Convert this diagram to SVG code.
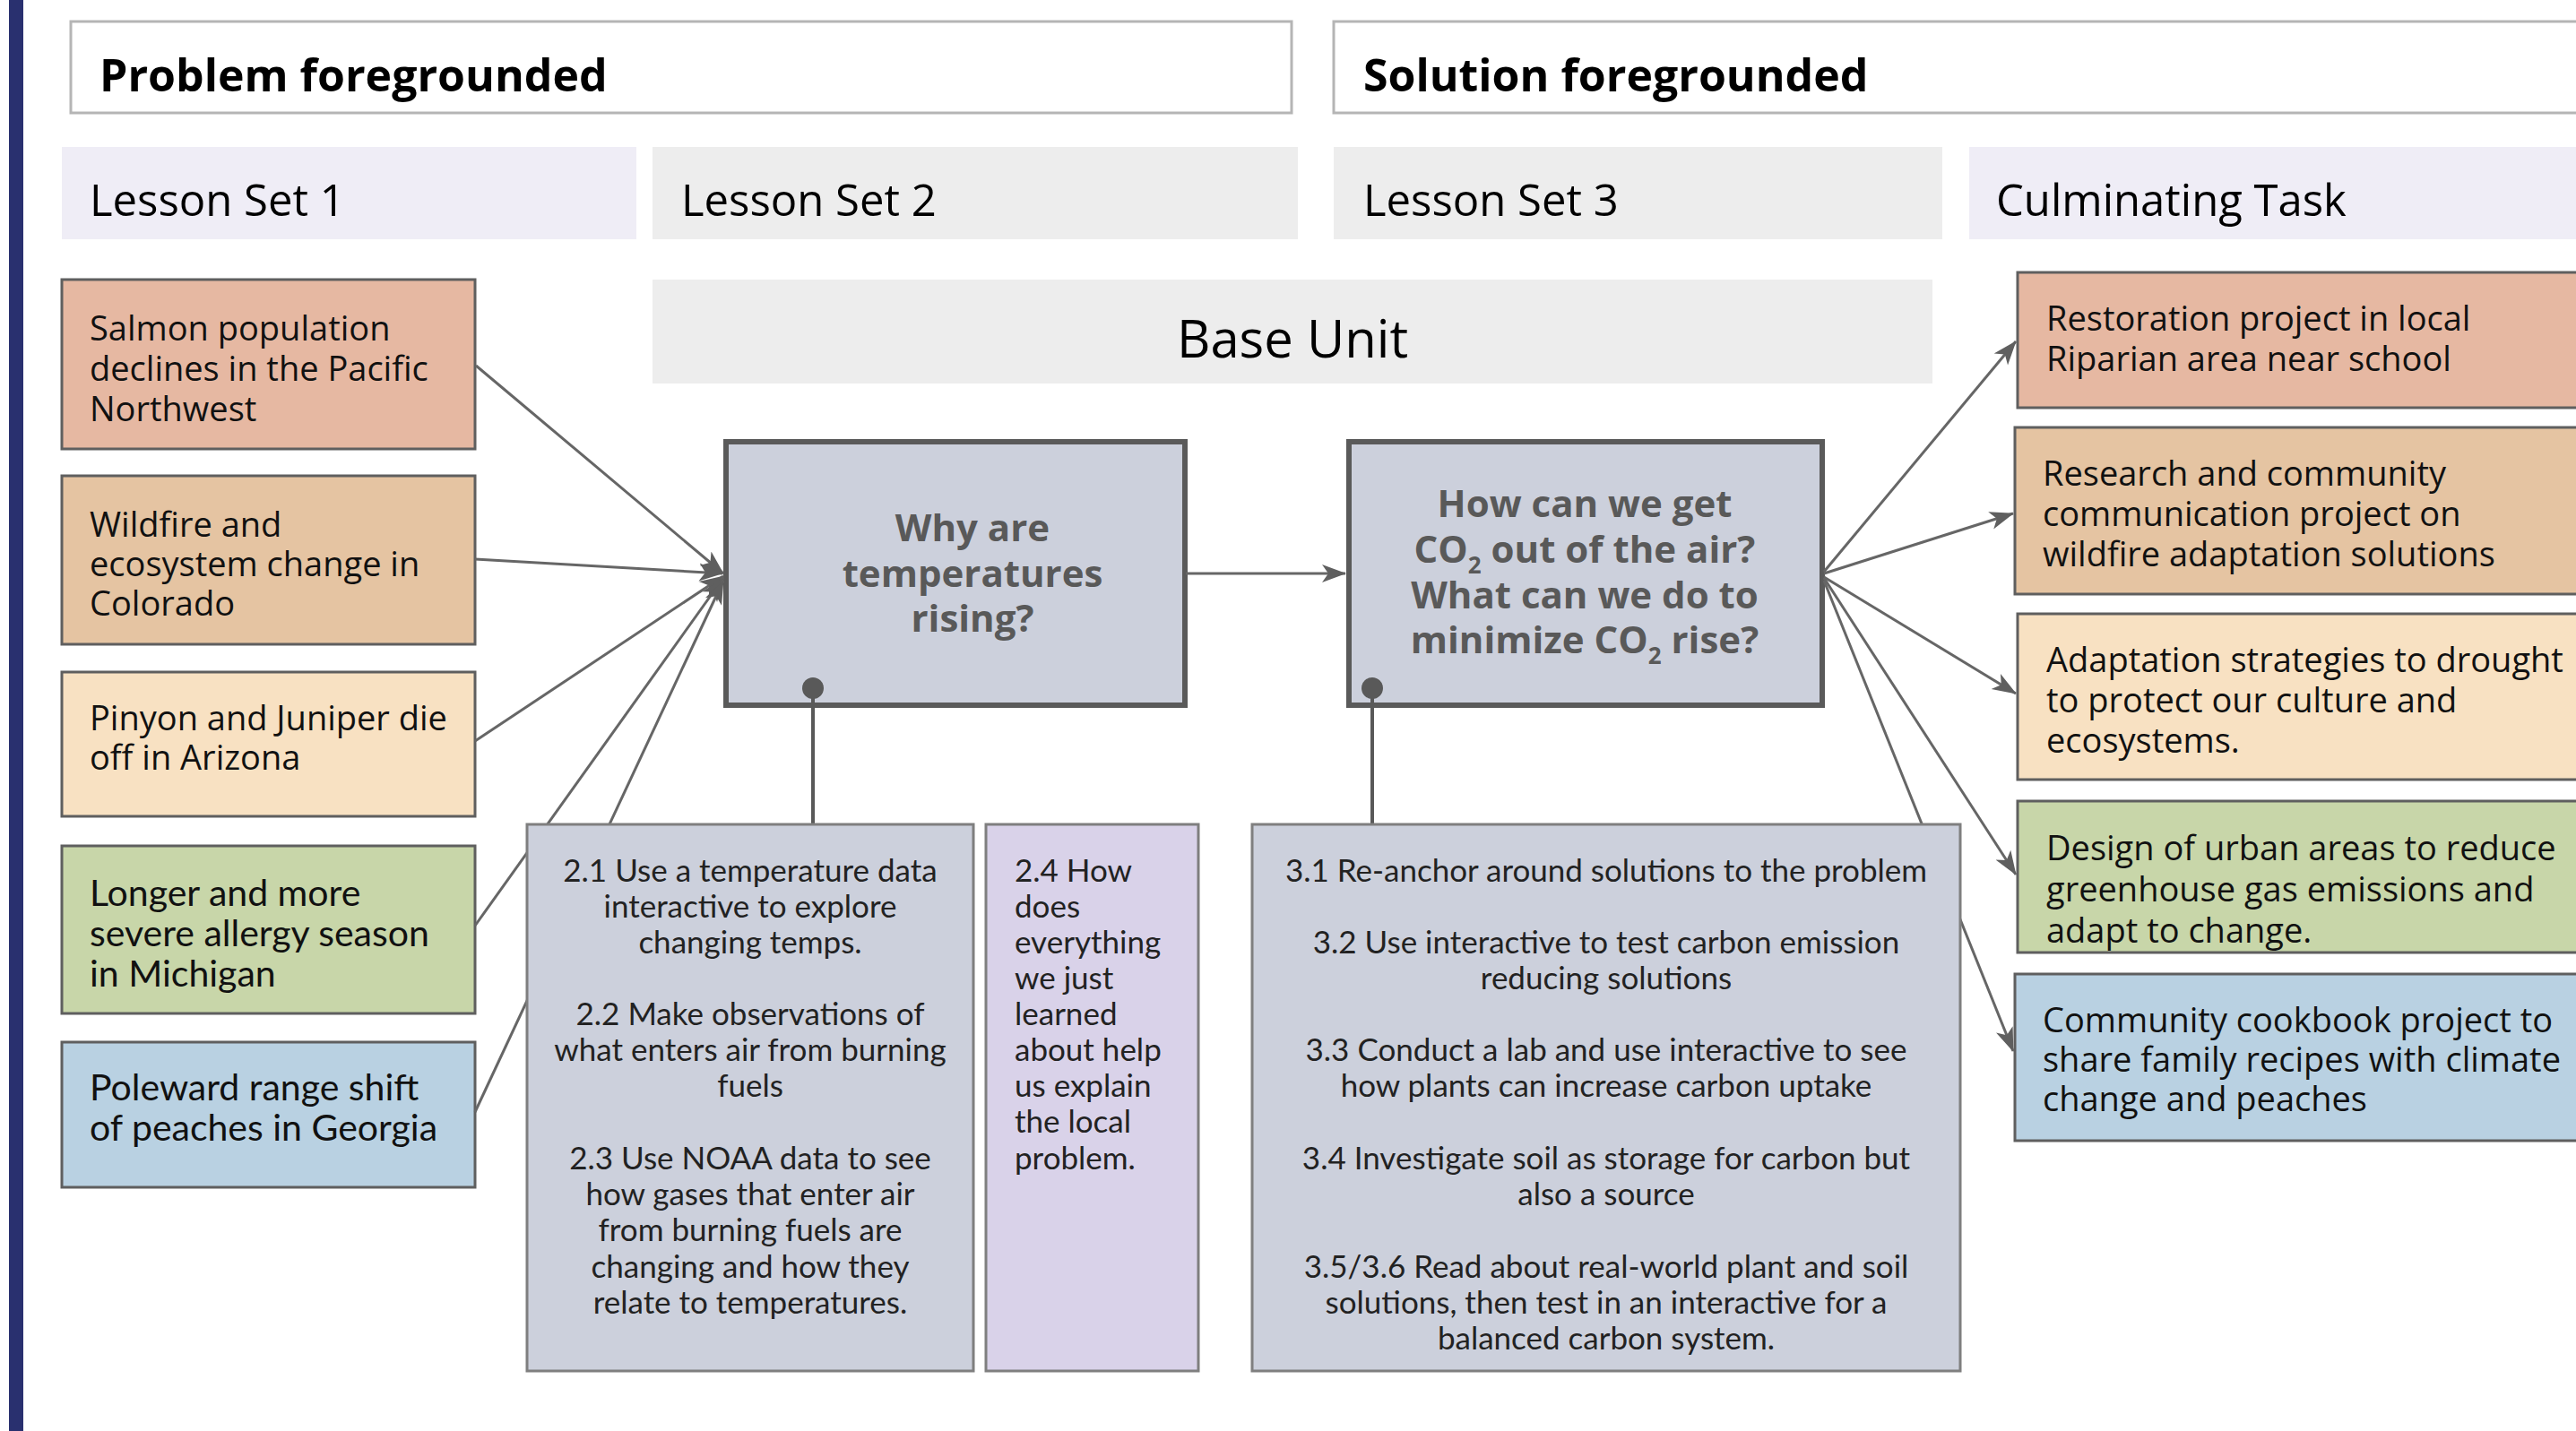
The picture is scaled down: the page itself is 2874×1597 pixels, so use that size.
<svg xmlns="http://www.w3.org/2000/svg" width="2874" height="1597" viewBox="0 0 2874 1597">
<style>
.hdr{fill:#fff;stroke:#b5b5b5;stroke-width:3}
.hdrt{font-family:"Open Sans",sans-serif;font-weight:700;font-size:50px;fill:#000}
.ls{font-family:"Open Sans",sans-serif;font-size:49px;fill:#000}
.lav{fill:#efedf6}
.gry{fill:#ededed}
.box{stroke:#5f5f5f;stroke-width:3}
.bt{font-family:"Open Sans",sans-serif;font-size:38px;fill:#111}
.btl{font-family:Lato,"Open Sans",sans-serif;font-size:41px;fill:#111}
.q{fill:#ccd0dc;stroke:#5a5a5a;stroke-width:6}
.qt{font-family:"Open Sans",sans-serif;font-weight:700;font-size:42px;fill:#595959;text-anchor:middle}
.les{stroke:#7f7f7f;stroke-width:3}
.lt{font-family:Lato,"Open Sans",sans-serif;font-size:35px;fill:#222}
.con{stroke:#666;stroke-width:3;fill:none}
.arr{marker-end:url(#ah)}
.stem{stroke:#595959;stroke-width:4;fill:none;marker-start:url(#dot)}
</style>
<defs>
<marker id="ah" markerUnits="userSpaceOnUse" markerWidth="28" markerHeight="22" refX="26" refY="11" orient="auto">
<path d="M0,1 L27,11 L0,21 L7,11 z" fill="#5f5f5f"/>
</marker>
<marker id="dot" markerUnits="userSpaceOnUse" markerWidth="28" markerHeight="28" refX="14" refY="14" orient="auto">
<circle cx="14" cy="14" r="12" fill="#595959"/>
</marker>
</defs>
<rect x="0" y="0" width="2874" height="1597" fill="#fff"/>
<rect x="10" y="0" width="16" height="1597" fill="#29306f"/>

<g id="problem-foregrounded">
<rect class="hdr" x="79" y="24" width="1362" height="102"/>
<text class="hdrt" x="111" y="102">Problem foregrounded</text>
</g>
<g id="solution-foregrounded">
<rect class="hdr" x="1488" y="24" width="1400" height="102"/>
<text class="hdrt" x="1521" y="102">Solution foregrounded</text>
</g>

<g id="lesson-set-1">
<rect class="lav" x="69" y="164" width="641" height="103"/>
<text class="ls" x="100" y="241">Lesson Set 1</text>
</g>
<g id="lesson-set-2">
<rect class="gry" x="728" y="164" width="720" height="103"/>
<text class="ls" x="760" y="241">Lesson Set 2</text>
</g>
<g id="lesson-set-3">
<rect class="gry" x="1488" y="164" width="679" height="103"/>
<text class="ls" x="1521" y="241">Lesson Set 3</text>
</g>
<g id="culminating-task">
<rect class="lav" x="2197" y="164" width="700" height="103"/>
<text class="ls" x="2227" y="241">Culminating Task</text>
</g>

<g id="base-unit">
<rect class="gry" x="728" y="312" width="1428" height="116"/>
<text x="1442" y="399" text-anchor="middle" font-family="Open Sans, sans-serif" font-size="58" fill="#000">Base Unit</text>
</g>

<g id="salmon">
<rect class="box" x="69" y="312" width="461" height="189" fill="#e6b8a2"/>
<text class="bt"><tspan x="100" y="380">Salmon population</tspan><tspan x="100" y="425">declines in the Pacific</tspan><tspan x="100" y="470">Northwest</tspan></text>
</g>
<g id="wildfire">
<rect class="box" x="69" y="531" width="461" height="188" fill="#e5c4a2"/>
<text class="bt"><tspan x="100" y="599">Wildfire and</tspan><tspan x="100" y="643">ecosystem change in</tspan><tspan x="100" y="687">Colorado</tspan></text>
</g>
<g id="pinyon">
<rect class="box" x="69" y="750" width="461" height="161" fill="#f8e1c2"/>
<text class="bt"><tspan x="100" y="815">Pinyon and Juniper die</tspan><tspan x="100" y="859">off in Arizona</tspan></text>
</g>
<g id="allergy">
<rect class="box" x="69" y="944" width="461" height="187" fill="#c8d6a9"/>
<text class="btl"><tspan x="100" y="1011">Longer and more</tspan><tspan x="100" y="1056">severe allergy season</tspan><tspan x="100" y="1101">in Michigan</tspan></text>
</g>
<g id="peaches">
<rect class="box" x="69" y="1163" width="461" height="162" fill="#b9d1e2"/>
<text class="btl"><tspan x="100" y="1228">Poleward range shift</tspan><tspan x="100" y="1273">of peaches in Georgia</tspan></text>
</g>

<g id="restoration">
<rect class="box" x="2251" y="304" width="640" height="151" fill="#e6b8a2"/>
<text class="bt"><tspan x="2283" y="369">Restoration project in local</tspan><tspan x="2283" y="414">Riparian area near school</tspan></text>
</g>
<g id="research">
<rect class="box" x="2248" y="477" width="640" height="186" fill="#e5c4a2"/>
<text class="bt"><tspan x="2279" y="542">Research and community</tspan><tspan x="2279" y="587">communication project on</tspan><tspan x="2279" y="632">wildfire adaptation solutions</tspan></text>
</g>
<g id="adaptation">
<rect class="box" x="2251" y="685" width="640" height="185" fill="#f8e1c2"/>
<text class="bt"><tspan x="2283" y="750">Adaptation strategies to drought</tspan><tspan x="2283" y="795">to protect our culture and</tspan><tspan x="2283" y="840">ecosystems.</tspan></text>
</g>
<g id="design">
<rect class="box" x="2251" y="894" width="640" height="169" fill="#c8d6a9"/>
<text class="bt"><tspan x="2283" y="960">Design of urban areas to reduce</tspan><tspan x="2283" y="1006">greenhouse gas emissions and</tspan><tspan x="2283" y="1052">adapt to change.</tspan></text>
</g>
<g id="cookbook">
<rect class="box" x="2248" y="1087" width="640" height="186" fill="#b9d1e2"/>
<text class="bt"><tspan x="2279" y="1152">Community cookbook project to</tspan><tspan x="2279" y="1196">share family recipes with climate</tspan><tspan x="2279" y="1240">change and peaches</tspan></text>
</g>

<g id="why-temperatures">
<rect class="q" x="810" y="493" width="512" height="294"/>
<text class="qt"><tspan x="1085" y="604">Why are</tspan><tspan x="1085" y="655">temperatures</tspan><tspan x="1085" y="705">rising?</tspan></text>
</g>
<g id="how-co2">
<rect class="q" x="1505" y="493" width="528" height="294"/>
<text class="qt"><tspan x="1768" y="577">How can we get</tspan></text>
<text class="qt" x="1768" y="628">CO<tspan font-size="26" dy="12">2</tspan><tspan dy="-12"> out of the air?</tspan></text>
<text class="qt" x="1768" y="679">What can we do to</text>
<text class="qt" x="1768" y="729">minimize CO<tspan font-size="26" dy="12">2</tspan><tspan dy="-12"> rise?</tspan></text>
</g>

<g id="connectors">
<line class="con arr" x1="531" y1="408" x2="807" y2="640"/>
<line class="con arr" x1="530" y1="624" x2="806" y2="640"/>
<line class="con arr" x1="530" y1="827" x2="807" y2="643"/>
<line class="con arr" x1="530" y1="1033" x2="807" y2="645"/>
<line class="con arr" x1="530" y1="1241" x2="807" y2="648"/>
<line class="con arr" x1="1323" y1="640" x2="1501" y2="640"/>
<line class="con arr" x1="2035" y1="638" x2="2249" y2="381"/>
<line class="con arr" x1="2035" y1="640" x2="2246" y2="573"/>
<line class="con arr" x1="2035" y1="644" x2="2249" y2="774"/>
<line class="con arr" x1="2035" y1="645" x2="2249" y2="976"/>
<line class="con arr" x1="2035" y1="648" x2="2246" y2="1173"/>
<line class="stem" x1="907" y1="768" x2="907" y2="920"/>
<line class="stem" x1="1531" y1="768" x2="1531" y2="920"/>
</g>

<g id="lessons-2-1-to-2-3">
<rect class="les" x="588" y="920" width="498" height="610" fill="#ccd0dc"/>
<text class="lt" text-anchor="middle"><tspan x="837" y="984">2.1 Use a temperature data</tspan><tspan x="837" y="1024">interactive to explore</tspan><tspan x="837" y="1064">changing temps.</tspan><tspan x="837" y="1144">2.2 Make observations of</tspan><tspan x="837" y="1184">what enters air from burning</tspan><tspan x="837" y="1224">fuels</tspan><tspan x="837" y="1305">2.3 Use NOAA data to see</tspan><tspan x="837" y="1345">how gases that enter air</tspan><tspan x="837" y="1385">from burning fuels are</tspan><tspan x="837" y="1426">changing and how they</tspan><tspan x="837" y="1466">relate to temperatures.</tspan></text>
</g>
<g id="lesson-2-4">
<rect class="les" x="1100" y="920" width="237" height="610" fill="#d9d2e9"/>
<text class="lt"><tspan x="1132" y="984">2.4 How</tspan><tspan x="1132" y="1024">does</tspan><tspan x="1132" y="1064">everything</tspan><tspan x="1132" y="1104">we just</tspan><tspan x="1132" y="1144">learned</tspan><tspan x="1132" y="1184">about help</tspan><tspan x="1132" y="1224">us explain</tspan><tspan x="1132" y="1264">the local</tspan><tspan x="1132" y="1305">problem.</tspan></text>
</g>
<g id="lessons-3-1-to-3-6">
<rect class="les" x="1397" y="920" width="790" height="610" fill="#ccd0dc"/>
<text class="lt" text-anchor="middle"><tspan x="1792" y="984">3.1 Re-anchor around solutions to the problem</tspan><tspan x="1792" y="1064">3.2 Use interactive to test carbon emission</tspan><tspan x="1792" y="1104">reducing solutions</tspan><tspan x="1792" y="1184">3.3 Conduct a lab and use interactive to see</tspan><tspan x="1792" y="1224">how plants can increase carbon uptake</tspan><tspan x="1792" y="1305">3.4 Investigate soil as storage for carbon but</tspan><tspan x="1792" y="1345">also a source</tspan><tspan x="1792" y="1426">3.5/3.6 Read about real-world plant and soil</tspan><tspan x="1792" y="1466">solutions, then test in an interactive for a</tspan><tspan x="1792" y="1506">balanced carbon system.</tspan></text>
</g>
</svg>
